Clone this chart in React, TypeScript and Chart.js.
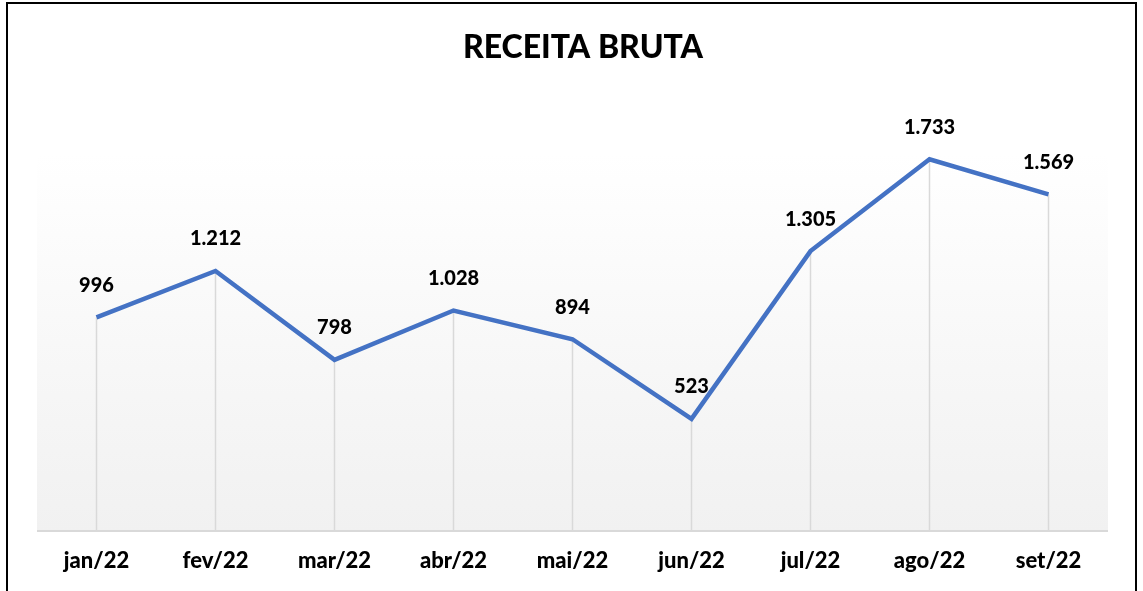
import React, { useEffect, useRef } from "react";
import { Chart, registerables } from "chart.js";

Chart.register(...registerables);

const TITLE = "RECEITA BRUTA";
const CATEGORIES = ["jan/22", "fev/22", "mar/22", "abr/22", "mai/22", "jun/22", "jul/22", "ago/22", "set/22"];
const RECEITA = [996, 1212, 798, 1028, 894, 523, 1305, 1733, 1569];
const Y_MIN = 0;
const Y_MAX = 2000;

const FONT = 'Lato, "Open Sans", "DejaVu Sans", sans-serif';

function fmt(v: number): string {
  const s = Math.round(v).toString();
  return s.replace(/\B(?=(\d{3})+(?!\d))/g, ".");
}

const decorPlugin = {
  id: "decor",
  beforeDraw(chart: any) {
    const { ctx, chartArea } = chart;
    const { left, right, top, bottom } = chartArea;
    ctx.save();
    const g = ctx.createLinearGradient(0, top, 0, bottom);
    g.addColorStop(0, "#ffffff");
    g.addColorStop(0.12, "#ffffff");
    g.addColorStop(1, "#f1f1f1");
    ctx.fillStyle = g;
    ctx.fillRect(left, top, right - left, bottom - top);
    ctx.strokeStyle = "#000000";
    ctx.lineWidth = 2;
    ctx.beginPath();
    ctx.moveTo(7, 700);
    ctx.lineTo(7, 3);
    ctx.lineTo(1136, 3);
    ctx.lineTo(1136, 700);
    ctx.stroke();
    ctx.restore();
  },
  beforeDatasetsDraw(chart: any) {
    const { ctx, chartArea } = chart;
    const meta = chart.getDatasetMeta(0);
    const base = chart.scales.y.getPixelForValue(Y_MIN);
    ctx.save();
    ctx.strokeStyle = "#d9d9d9";
    ctx.lineWidth = 1.5;
    meta.data.forEach((pt: any) => {
      ctx.beginPath();
      ctx.moveTo(pt.x, pt.y);
      ctx.lineTo(pt.x, base);
      ctx.stroke();
    });
    ctx.lineWidth = 2;
    ctx.beginPath();
    ctx.moveTo(chartArea.left, base);
    ctx.lineTo(chartArea.right, base);
    ctx.stroke();
    ctx.restore();
  },
  afterDatasetsDraw(chart: any) {
    const { ctx } = chart;
    const meta = chart.getDatasetMeta(0);
    ctx.save();
    ctx.fillStyle = "#000000";
    ctx.font = `900 20px ${FONT}`;
    ctx.textAlign = "center";
    ctx.textBaseline = "middle";
    meta.data.forEach((pt: any, i: number) => {
      ctx.fillText(fmt(RECEITA[i]), pt.x, pt.y - 32);
    });
    ctx.restore();
  },
  afterDraw(chart: any) {
    const { ctx } = chart;
    ctx.save();
    ctx.fillStyle = "#000000";
    ctx.font = `900 32px ${FONT}`;
    ctx.textAlign = "center";
    ctx.textBaseline = "middle";
    ctx.fillText(TITLE, 583, 48);
    ctx.restore();
  },
};

export default function App() {
  const ref = useRef<HTMLCanvasElement>(null);
  useEffect(() => {
    document.body.style.margin = "0";
    const chart = new Chart(ref.current as HTMLCanvasElement, {
      type: "line",
      data: {
        labels: CATEGORIES,
        datasets: [
          {
            label: TITLE,
            data: RECEITA,
            borderColor: "#4472C4",
            borderWidth: 4.5,
            pointRadius: 0,
            pointHoverRadius: 0,
            tension: 0,
            fill: false,
          },
        ],
      },
      options: {
        responsive: false,
        animation: false,
        layout: { padding: { left: 37, right: 35, top: 102, bottom: 0 } },
        plugins: {
          legend: { display: false },
          title: { display: false },
          tooltip: { enabled: false },
        },
        scales: {
          x: {
            type: "category",
            offset: true,
            grid: { display: false, drawTicks: false },
            border: { display: false },
            ticks: {
              color: "#000000",
              font: { family: FONT, size: 22, weight: "900" },
              padding: 17,
              maxRotation: 0,
              autoSkip: false,
            },
            afterFit: (s: any) => {
              s.height = 60;
            },
          },
          y: {
            display: false,
            min: Y_MIN,
            max: Y_MAX,
          },
        },
      },
      plugins: [decorPlugin],
    });
    return () => chart.destroy();
  }, []);
  return (
    <div style={{ position: "fixed", left: 0, top: 0, width: 1143, height: 591, background: "#fff" }}>
      <canvas ref={ref} width={1143} height={591} />
    </div>
  );
}
